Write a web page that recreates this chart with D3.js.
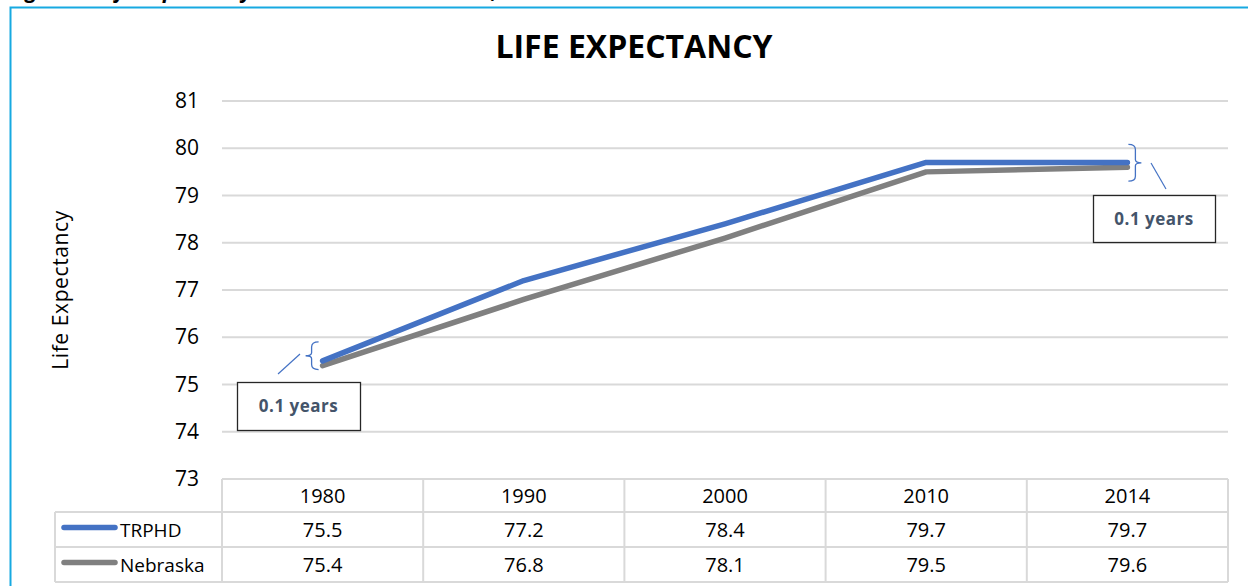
<!DOCTYPE html>
<html>
<head>
<meta charset="utf-8">
<script src="https://cdn.jsdelivr.net/npm/d3@7"></script>
<style>
  html, body { margin: 0; padding: 0; background: #fff; overflow: hidden; }
  svg { display: block; font-family: "Open Sans", "Noto Sans", sans-serif; }
</style>
</head>
<body>
<div id="chart"></div>
<script>
// Datos del gráfico
var years    = ['1980', '1990', '2000', '2010', '2014'];
var trphd    = [75.5, 77.2, 78.4, 79.7, 79.7];
var nebraska = [75.4, 76.8, 78.1, 79.5, 79.6];
var yTicks   = [73, 74, 75, 76, 77, 78, 79, 80, 81];
var seriesNames = ['TRPHD', 'Nebraska'];
var callouts = ['0.1 years', '0.1 years'];

var W = 1248, H = 586;
var FONT = '"Open Sans", "Noto Sans", sans-serif';
var COLORS = { TRPHD: '#4472C4', Nebraska: '#808080' };

var svg = d3.select('#chart').append('svg')
  .attr('width', W).attr('height', H);

// Pie de figura (recortado arriba, como en el original)
svg.append('text')
  .attr('x', 8).attr('y', -2)
  .attr('font-size', 21).attr('font-weight', 'bold').attr('font-style', 'italic')
  .attr('fill', '#000')
  .text('Figure 4: Life Expectancy in TRPHD and Nebraska, 1980-2014');

// Marco (solo borde superior e izquierdo visibles)
svg.append('path')
  .attr('d', 'M10.5,' + H + 'V7.5H' + W)
  .attr('fill', 'none').attr('stroke', '#17A9E1').attr('stroke-width', 2);

var x = d3.scaleBand().domain(years).range([222, 1228]);
var y = d3.scaleLinear().domain([73, 81]).range([479, 101]);

// Título
svg.append('text')
  .attr('x', 634).attr('y', 58)
  .attr('text-anchor', 'middle')
  .attr('font-size', 32).attr('font-weight', 'bold')
  .text('LIFE EXPECTANCY');

// Rejilla horizontal
svg.append('g').selectAll('line').data(yTicks.slice(1)).enter().append('line')
  .attr('x1', 222).attr('x2', 1228)
  .attr('y1', function (d) { return y(d); })
  .attr('y2', function (d) { return y(d); })
  .attr('stroke', '#D9D9D9').attr('stroke-width', 2);

// Eje Y
var yAxis = svg.append('g')
  .attr('transform', 'translate(199,0)')
  .call(d3.axisLeft(y).tickValues(yTicks).tickSize(0).tickPadding(0).tickFormat(d3.format('d')));
yAxis.select('.domain').remove();
yAxis.selectAll('text')
  .attr('font-size', 21).attr('font-family', FONT)
  .attr('fill', '#000');

svg.append('text')
  .attr('transform', 'translate(68,290) rotate(-90)')
  .attr('text-anchor', 'middle')
  .attr('font-size', 21)
  .attr('letter-spacing', 0.6)
  .text('Life Expectancy');

// Líneas
var series = [
  { name: 'Nebraska', values: nebraska },
  { name: 'TRPHD', values: trphd }
];
var line = d3.line()
  .x(function (d, i) { return x(years[i]) + x.bandwidth() / 2; })
  .y(function (d) { return y(d); });

svg.append('g').selectAll('path').data(series).enter().append('path')
  .attr('d', function (s) { return line(s.values); })
  .attr('fill', 'none')
  .attr('stroke', function (s) { return COLORS[s.name]; })
  .attr('stroke-width', 5.5)
  .attr('stroke-linecap', 'round')
  .attr('stroke-linejoin', 'round');

// Llaves y cuadros de anotación
var bracketColor = '#4472C4';
function brace(xEdge, yTop, yBot, dir) {
  // dir = 1 -> '}' ; dir = -1 -> '{'
  var w = 7 * dir, ym = (yTop + yBot) / 2;
  return 'M' + xEdge + ',' + yTop +
    'Q' + (xEdge + w) + ',' + yTop + ' ' + (xEdge + w) + ',' + (yTop + 5) +
    'V' + (ym - 3) +
    'Q' + (xEdge + w) + ',' + ym + ' ' + (xEdge + w + 6 * dir) + ',' + ym +
    'Q' + (xEdge + w) + ',' + ym + ' ' + (xEdge + w) + ',' + (ym + 3) +
    'V' + (yBot - 5) +
    'Q' + (xEdge + w) + ',' + yBot + ' ' + xEdge + ',' + yBot;
}

var first = x(years[0]) + x.bandwidth() / 2;
var last = x(years[4]) + x.bandwidth() / 2;
var b1Top = y(trphd[0]) - 19, b1Bot = y(nebraska[0]) + 4;
var b2Top = y(trphd[4]) - 18, b2Bot = y(nebraska[4]) + 14;

svg.append('path').attr('d', brace(first - 4, b1Top, b1Bot, -1))
  .attr('fill', 'none').attr('stroke', bracketColor).attr('stroke-width', 1.3);
svg.append('path').attr('d', brace(last + 1, b2Top, b2Bot, 1))
  .attr('fill', 'none').attr('stroke', bracketColor).attr('stroke-width', 1.3);

// líneas guía de las anotaciones
svg.append('line')
  .attr('x1', 300).attr('y1', 354).attr('x2', 278).attr('y2', 374)
  .attr('stroke', bracketColor).attr('stroke-width', 1.2);
svg.append('line')
  .attr('x1', 1151).attr('y1', 163).attr('x2', 1166).attr('y2', 189)
  .attr('stroke', bracketColor).attr('stroke-width', 1.2);

var boxes = [
  { x: 237, y: 382, w: 123, h: 48, label: callouts[0] },
  { x: 1093, y: 195, w: 122, h: 47, label: callouts[1] }
];
var bx = svg.append('g').selectAll('g').data(boxes).enter().append('g');
bx.append('rect')
  .attr('x', function (d) { return d.x + 0.5; })
  .attr('y', function (d) { return d.y + 0.5; })
  .attr('width', function (d) { return d.w; })
  .attr('height', function (d) { return d.h; })
  .attr('fill', '#fff').attr('stroke', '#262626').attr('stroke-width', 1.3);
bx.append('text')
  .attr('x', function (d) { return d.x + d.w / 2; })
  .attr('y', function (d) { return d.y + d.h / 2 + 6; })
  .attr('text-anchor', 'middle')
  .attr('font-size', 17).attr('font-weight', 'bold')
  .attr('letter-spacing', 0.5)
  .attr('fill', '#44546A')
  .text(function (d) { return d.label; });

// Tabla de datos
var rowY = [479, 512, 547, 582];
var tbl = svg.append('g');
var grid = '#D9D9D9';
// líneas horizontales
tbl.append('line').attr('x1', 222).attr('x2', 1228).attr('y1', rowY[0]).attr('y2', rowY[0])
  .attr('stroke', grid).attr('stroke-width', 2);
[1, 2, 3].forEach(function (i) {
  tbl.append('line').attr('x1', 55).attr('x2', 1228).attr('y1', rowY[i]).attr('y2', rowY[i])
    .attr('stroke', grid).attr('stroke-width', 2);
});
// líneas verticales
tbl.append('line').attr('x1', 55).attr('x2', 55).attr('y1', rowY[1]).attr('y2', rowY[3])
  .attr('stroke', grid).attr('stroke-width', 2);
years.forEach(function (yr) {
  tbl.append('line').attr('x1', x(yr)).attr('x2', x(yr)).attr('y1', rowY[0]).attr('y2', rowY[3])
    .attr('stroke', grid).attr('stroke-width', 2);
});
tbl.append('line').attr('x1', 1228).attr('x2', 1228).attr('y1', rowY[0]).attr('y2', rowY[3])
  .attr('stroke', grid).attr('stroke-width', 2);

// encabezados de años
tbl.selectAll('text.yr').data(years).enter().append('text')
  .attr('class', 'yr')
  .attr('x', function (d) { return x(d) + x.bandwidth() / 2; })
  .attr('y', (rowY[0] + rowY[1]) / 2 + 7)
  .attr('text-anchor', 'middle').attr('font-size', 20)
  .text(function (d) { return d; });

var rows = [
  { name: seriesNames[0], values: trphd },
  { name: seriesNames[1], values: nebraska }
];
rows.forEach(function (r, ri) {
  var cy = (rowY[ri + 1] + rowY[ri + 2]) / 2;
  tbl.append('line')
    .attr('x1', 64).attr('x2', 115).attr('y1', cy - 2).attr('y2', cy - 2)
    .attr('stroke', COLORS[r.name]).attr('stroke-width', 5.5).attr('stroke-linecap', 'round');
  tbl.append('text')
    .attr('x', 120).attr('y', cy + 7)
    .attr('font-size', 19)
    .text(r.name);
  tbl.selectAll('text.v' + ri).data(r.values).enter().append('text')
    .attr('class', 'v' + ri)
    .attr('x', function (d, i) { return x(years[i]) + x.bandwidth() / 2; })
    .attr('y', cy + 7)
    .attr('text-anchor', 'middle').attr('font-size', 20)
    .text(function (d) { return d3.format('.1f')(d); });
});
</script>
</body>
</html>
